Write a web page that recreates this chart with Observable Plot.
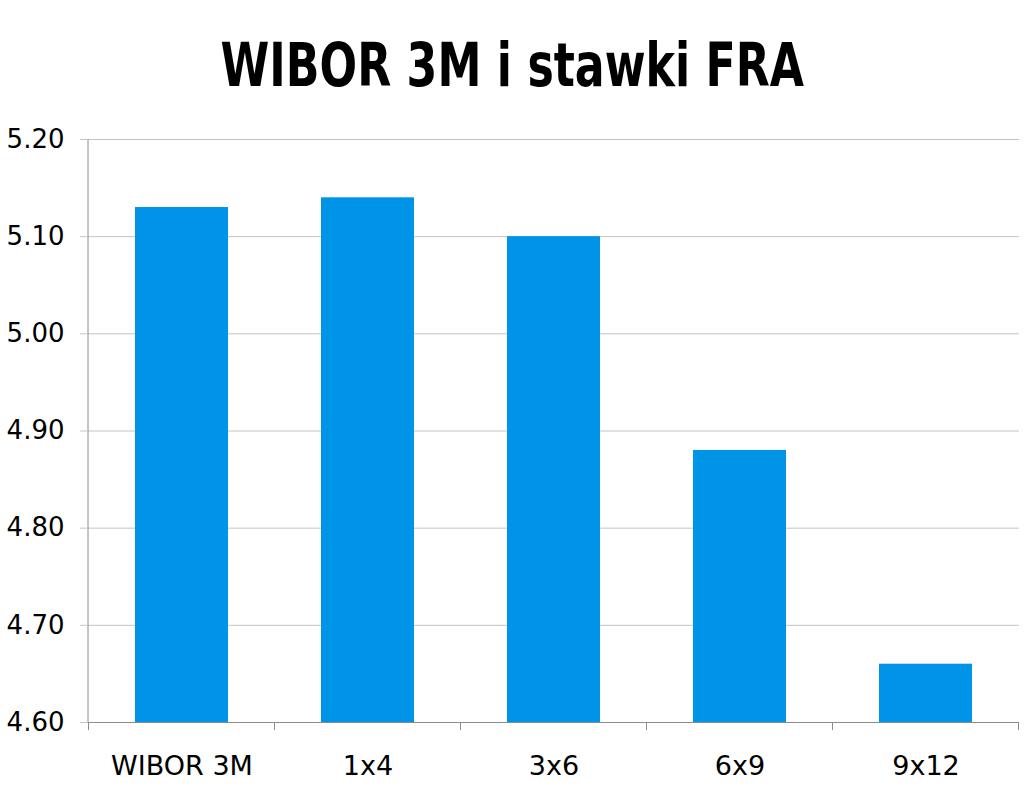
<!DOCTYPE html>
<html>
<head>
<meta charset="utf-8">
<script src="https://cdn.jsdelivr.net/npm/d3@7"></script>
<script src="https://cdn.jsdelivr.net/npm/@observablehq/plot@0.6"></script>
<style>
  html, body { margin: 0; padding: 0; background: #fff; }
  #wrap { width: 1024px; height: 791px; overflow: hidden; }
  #title { height: 100px; width: 1024px; text-align: center; font-family: "DejaVu Sans", sans-serif; font-weight: bold; font-size: 56px; line-height: 100px; color: #000; padding-top: 16px; box-sizing: border-box; }
  #title span { display: inline-block; transform: scale(0.79, 1.07); transform-origin: 50% 50%; }
</style>
</head>
<body>
<div id="wrap">
  <div id="title"><span>WIBOR 3M i stawki FRA</span></div>
  <div id="chart"></div>
</div>
<script>
const categories = ["WIBOR 3M", "1x4", "3x6", "6x9", "9x12"];
const values = [5.13, 5.14, 5.10, 4.88, 4.66];
const yTicks = [4.6, 4.7, 4.8, 4.9, 5.0, 5.1, 5.2];

const data = categories.map((c, i) => ({cat: c, value: values[i]}));
const yMin = yTicks[0];
const yMax = yTicks[yTicks.length - 1];

const axisColor = "#8c8c8c";
const gridColor = "#c4c4c4";

function frameAndTicks(index, scales, vals, dims) {
  const x = scales.x, y = scales.y;
  const bw = typeof x.bandwidth === "function" ? x.bandwidth() : x.bandwidth;
  const step = typeof x.step === "function" ? x.step() : bw * 2;
  const g = d3.create("svg:g");
  const y0 = y(yMin), y1 = y(yMax);
  const left = dims.marginLeft;
  g.append("line").attr("x1", left).attr("x2", left).attr("y1", y0).attr("y2", y1)
    .attr("stroke", axisColor).attr("stroke-width", 1);
  const bounds = categories.map(c => x(c) + bw / 2 - step / 2);
  bounds.push(x(categories[categories.length - 1]) + bw / 2 + step / 2);
  for (const b of bounds) {
    g.append("line").attr("x1", b).attr("x2", b).attr("y1", y0).attr("y2", y0 + 8)
      .attr("stroke", axisColor).attr("stroke-width", 1);
  }
  return g.node();
}

const chart = Plot.plot({
  width: 1024,
  height: 691,
  marginTop: 39,
  marginBottom: 69,
  marginLeft: 88,
  marginRight: 5,
  style: {fontFamily: "DejaVu Sans, sans-serif", fontSize: "26px", color: "#000", background: "#fff"},
  x: {domain: categories, paddingInner: 0.5, paddingOuter: 0.25, label: null},
  y: {domain: [yMin, yMax], label: null},
  marks: [
    Plot.ruleY(yTicks.slice(1), {stroke: gridColor, strokeWidth: 1}),
    Plot.barY(data, {x: "cat", y1: yMin, y2: "value", fill: "#0094E8"}),
    Plot.ruleY([yMin], {stroke: axisColor, strokeWidth: 1}),
    frameAndTicks,
    Plot.axisY({ticks: yTicks, tickFormat: d3.format(".2f"), tickSize: 8, tickPadding: 16, stroke: gridColor, fontSize: 26, fill: "#000", label: null}),
    Plot.axisX({tickSize: 0, tickPadding: 33, fontSize: 27, fill: "#000", label: null})
  ]
});
document.getElementById("chart").appendChild(chart);
</script>
</body>
</html>
